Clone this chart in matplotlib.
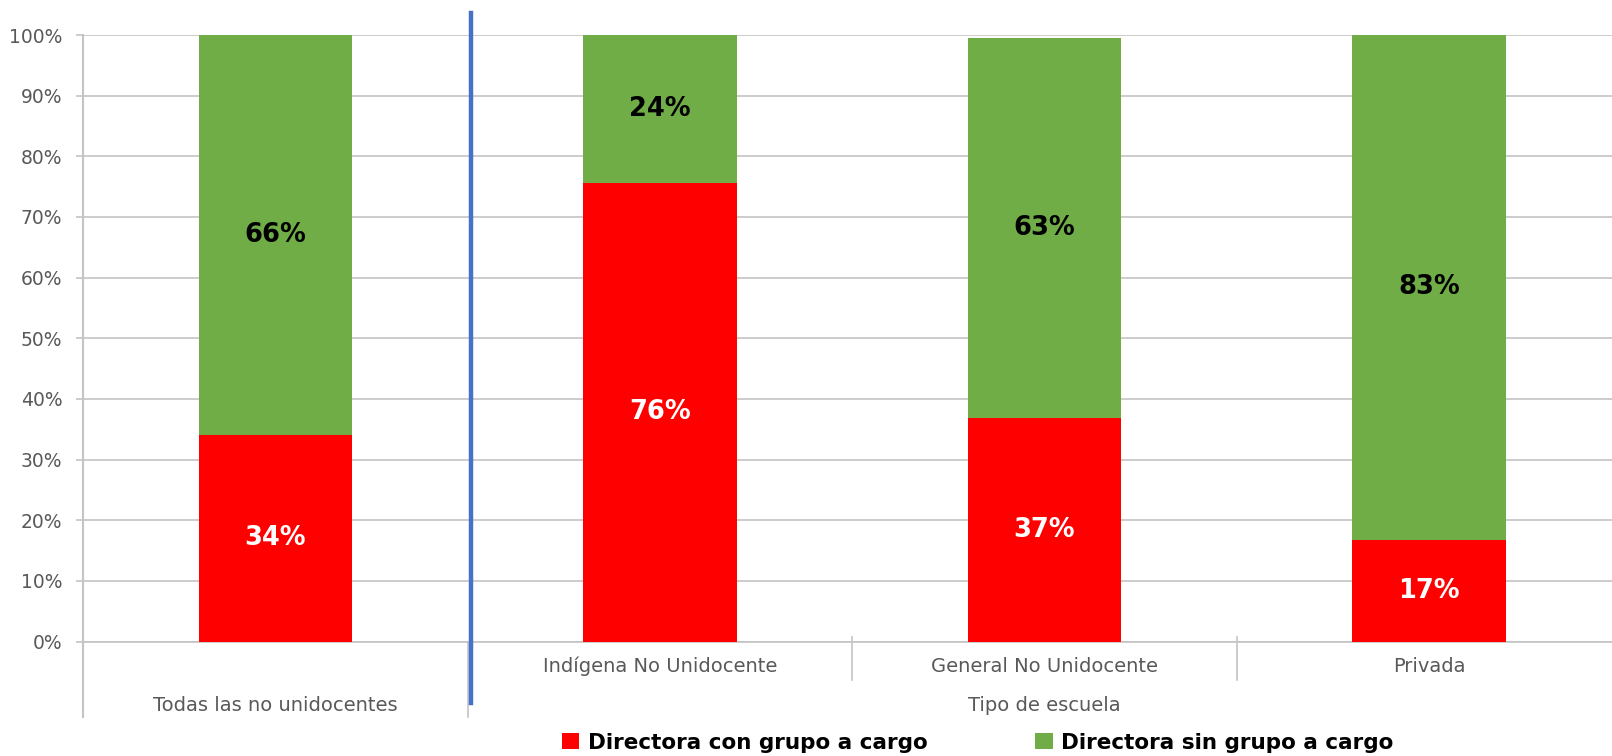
import matplotlib
matplotlib.use("Agg")
import matplotlib.pyplot as plt
from matplotlib.patches import Patch

categories = ["Todas las no unidocentes", "Indígena No Unidocente", "General No Unidocente", "Privada"]
con_grupo = [34.0, 75.6, 36.9, 16.8]
sin_grupo = [66.0, 24.4, 62.6, 83.2]
series_names = ["Directora con grupo a cargo", "Directora sin grupo a cargo"]
group_label = "Tipo de escuela"
yticks = [0, 10, 20, 30, 40, 50, 60, 70, 80, 90, 100]

RED = "#FF0000"
GREEN = "#70AD47"
GRID = "#C4C4C4"
TXT = "#595959"
FONT = ["DejaVu Sans"]
plt.rcParams["font.family"] = FONT

W, H = 1612, 756
fig = plt.figure(figsize=(W / 100, H / 100), dpi=100)
ax = fig.add_axes([83.3 / W, 0.1513, 4 * 384.5 / W, 0.8024])

x = [i + 0.5 for i in range(len(categories))]
bw = 0.40
ax.bar(x, con_grupo, width=bw, color=RED, zorder=3)
ax.bar(x, sin_grupo, width=bw, bottom=con_grupo, color=GREEN, zorder=3)

for xi, a, b in zip(x, con_grupo, sin_grupo):
    ax.text(xi, a / 2, f"{a:.0f}%", ha="center", va="center", color="white",
            fontsize=18.5, fontweight="bold", zorder=4)
    ax.text(xi, a + b / 2, f"{b:.0f}%", ha="center", va="center", color="black",
            fontsize=18.5, fontweight="bold", zorder=4)

ax.set_xlim(0, 4)
ax.set_ylim(0, 100)
ax.set_yticks(yticks)
ax.set_yticklabels([f"{t}%" for t in yticks], color=TXT, fontsize=13.5)
ax.tick_params(axis="y", length=5, color=GRID, width=1.2, pad=10)
ax.set_xticks([])
ax.yaxis.grid(True, color=GRID, linewidth=1.2, zorder=0)
ax.set_axisbelow(True)
for s in ["top", "right"]:
    ax.spines[s].set_visible(False)
ax.spines["left"].set_color(GRID)
ax.spines["left"].set_linewidth(1.5)
ax.spines["bottom"].set_color(GRID)
ax.spines["bottom"].set_linewidth(1.2)

tr = ax.get_xaxis_transform()
# left spine extension and separators
ax.plot([0, 0], [0, -0.1237], transform=tr, color=GRID, lw=1.5, clip_on=False)
ax.plot([1, 1], [0, -0.1237], transform=tr, color=GRID, lw=1.2, clip_on=False)
for sx in [2, 3]:
    ax.plot([sx, sx], [0.007, -0.064], transform=tr, color=GRID, lw=1.2, clip_on=False)

# category labels
ax.text(x[0], -0.105, categories[0], transform=tr, ha="center", va="center",
        color=TXT, fontsize=14)
for xi, c in zip(x[1:], categories[1:]):
    ax.text(xi, -0.0407, c, transform=tr, ha="center", va="center", color=TXT, fontsize=14)
ax.text(2.5, -0.105, group_label, transform=tr, ha="center", va="center",
        color=TXT, fontsize=14)

# blue divider
ax.plot([1.008, 1.008], [1.037, -0.1017], transform=tr, color="#4472C4", lw=3.2,
        clip_on=False, zorder=5)

handles = [Patch(facecolor=RED, edgecolor="none"), Patch(facecolor=GREEN, edgecolor="none")]
fig.legend(handles, series_names, loc="center", bbox_to_anchor=(0.6066, 0.0177),
           ncol=2, frameon=False, prop={"weight": "bold", "size": 15.5, "family": FONT},
           handlelength=0.8, handleheight=0.8, handletextpad=0.4, columnspacing=5.0)

fig.savefig("out.png", dpi=100)
